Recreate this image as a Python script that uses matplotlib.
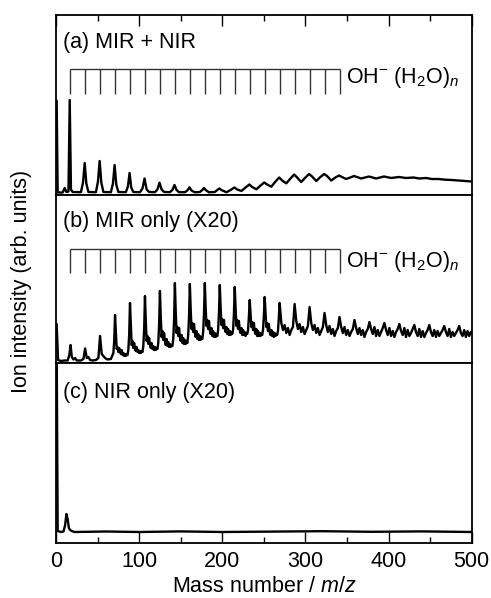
import matplotlib
matplotlib.use("Agg")
import matplotlib.pyplot as plt
import numpy as np
from matplotlib.ticker import MultipleLocator

plt.rcParams['font.family'] = 'Liberation Sans'
plt.rcParams['mathtext.fontset'] = 'custom'
plt.rcParams['mathtext.rm'] = 'Liberation Sans'
plt.rcParams['mathtext.it'] = 'Liberation Sans:italic'
plt.rcParams['font.size'] = 15.5

# OH-(H2O)n progression, n = 0..18
cluster_mz = [17, 35, 53, 71, 89, 107, 125, 143, 161, 179, 197, 215, 233,
              251, 269, 287, 305, 323, 341]

# (m/z, intensity), arb. units
trace_a = [
    (0, 94), (0.8, 94), (2, 2), (8, 2), (10.5, 6.5), (12.5, 2.5),
    (15, 3), (16.5, 94.5), (18, 5), (20, 2.5),
    (30, 2.3), (32.5, 12), (34.5, 31.5), (36.5, 11), (39, 2.5),
    (48, 2.3), (50.5, 13), (52.5, 33.5), (54.5, 12), (57, 2.5),
    (66, 2.3), (68.5, 11), (70.5, 29.5), (72.5, 10), (75, 2.5),
    (84, 2.3), (86.5, 8), (88.5, 21.5), (90.5, 7), (93, 2.5),
    (101, 2.3), (104, 6), (106.5, 16), (109, 5), (112, 2.5),
    (119, 2.3), (122, 5), (124.5, 11.8), (127, 5), (130, 2.5),
    (137, 2.3), (140, 4.5), (142.5, 9.5), (145, 4.5), (148, 2.3),
    (155, 2.3), (158, 4), (160.5, 7.2), (163, 4), (167, 2.2),
    (173, 2.5), (176, 4.5), (178, 6.5), (180, 4.5), (184, 2.2),
    (191, 2.5), (194, 4.5), (196.5, 6), (199, 4.5), (205, 2.2),
    (210, 4.5), (214.5, 7), (218, 5), (223, 3.5),
    (228, 7), (232.5, 10), (236, 7.5), (241, 5.2),
    (246, 9), (250.5, 12), (254, 10), (259, 7.8),
    (264, 13), (268.5, 17), (272, 14), (277, 11.2),
    (282, 16), (286.5, 20), (290, 17), (295, 12.5),
    (300, 17), (304.5, 20.5), (308, 18), (313, 13.5),
    (318, 17.5), (322.5, 20.5), (326, 18.5), (331, 14),
    (336, 17), (340.5, 19), (344, 17.5), (349, 15.5),
    (354, 17), (358.5, 18.5), (362, 17.5), (367, 16),
    (376.5, 18), (385, 16), (394.5, 18),
    (403, 16.5), (412.5, 17.5), (421, 16.5), (430, 17), (437, 16),
    (445, 16.5), (452, 15.5), (460, 15.5), (468, 14.8), (476, 14.5),
    (484, 14), (492, 13.5), (500, 13),
]

trace_b = [
    (0, 39), (0.8, 39), (2.5, 3), (6, 2), (10, 2.5), (14, 2.5),
    (16, 8), (17.5, 18), (19, 6), (21, 3.5), (23, 5), (25, 2.5), (30, 2.5),
    (33, 4), (35, 14.5), (37, 5), (39, 6), (41, 3), (44, 2.5), (48, 3),
    (51, 5), (53, 27), (55, 9), (57, 7), (59, 5), (62, 3.5), (66, 4),
    (69, 10), (70, 22), (71, 48), (72, 30), (73, 14), (74, 16), (75, 11), (76, 15), (77, 12),
    (78, 9), (79, 13), (80, 8), (81, 10), (82, 7), (83, 9), (84, 7), (85, 9), (86, 8),
    (87, 13), (88, 28), (89, 60), (90, 38), (91, 18), (92, 22), (93, 15), (94, 20), (95, 14),
    (96, 12), (97, 16), (98, 11), (99, 13), (100, 10), (101, 12), (102, 10), (103, 12), (104, 11),
    (105, 17), (106, 33), (107, 67), (108, 42), (109, 22), (110, 27), (111, 19), (112, 25), (113, 18),
    (114, 15), (115, 20), (116, 14), (117, 17), (118, 13), (119, 16), (120, 13), (121, 15), (122, 14),
    (123, 20), (124, 38), (125, 72), (126, 47), (127, 26), (128, 32), (129, 23), (130, 30), (131, 22),
    (132, 18), (133, 24), (134, 17), (135, 21), (136, 16), (137, 19), (138, 16), (139, 18), (140, 17),
    (141, 24), (142, 42), (143, 80), (144, 52), (145, 30), (146, 36), (147, 27), (148, 35), (149, 26),
    (150, 22), (151, 28), (152, 20), (153, 25), (154, 19), (155, 23), (156, 19), (157, 22), (158, 20),
    (159, 28), (160, 46), (161, 79), (162, 54), (163, 34), (164, 40), (165, 31), (166, 39), (167, 30),
    (168, 26), (169, 32), (170, 24), (171, 29), (172, 23), (173, 27), (174, 23), (175, 26), (176, 24),
    (177, 31), (178, 49), (179, 80), (180, 56), (181, 37), (182, 43), (183, 34), (184, 42), (185, 33),
    (186, 29), (187, 35), (188, 27), (189, 32), (190, 26), (191, 30), (192, 26), (193, 29), (194, 27),
    (195, 33), (196, 50), (197, 78), (198, 56), (199, 38), (200, 44), (201, 35), (202, 43), (203, 34),
    (204, 31), (205, 36), (206, 29), (207, 34), (208, 28), (209, 32), (210, 28), (211, 31), (212, 29),
    (213, 33), (214, 49), (215, 76), (216, 55), (217, 37), (218, 43), (219, 34), (220, 42), (221, 33),
    (222, 30), (223, 35), (224, 28), (225, 33), (226, 28), (227, 31), (228, 27), (229, 30), (230, 29),
    (231, 33), (232, 46), (233, 63), (234, 50), (235, 36), (236, 41), (237, 33), (238, 40), (239, 32),
    (240, 29), (241, 34), (242, 27), (243, 32), (244, 27), (245, 30), (246, 27), (247, 30), (248, 28),
    (249, 33), (250, 47), (251, 66), (252, 50), (253, 36), (254, 40), (255, 32), (256, 39), (257, 31),
    (258, 28), (259, 33), (260, 27), (261, 31), (262, 26), (263, 30), (264, 27), (265, 29), (266, 28),
    (267, 32), (268, 45),
    (269, 60), (271, 40), (273, 33), (275, 38), (277, 30), (279, 35), (281, 28), (283, 33), (285, 36),
    (287, 59), (289, 42), (291, 34), (293, 39), (295, 31), (297, 36), (299, 29), (301, 33), (303, 37),
    (305, 56), (307, 40), (309, 33), (311, 38), (313, 30), (315, 35), (317, 28), (319, 32), (321, 36),
    (323, 50), (325, 38), (327, 31), (329, 37), (331, 29), (333, 34), (335, 27), (337, 32), (339, 35),
    (341, 46), (343, 36), (345, 30), (347, 36), (349, 28), (351, 33), (353, 27), (355, 31), (357, 34),
    (359, 43), (361, 35), (363, 29), (365, 35), (367, 28), (369, 33), (371, 26), (373, 31), (375, 34),
    (377, 41), (379, 34), (381, 29), (383, 36), (385, 27), (387, 33), (389, 27), (391, 31), (393, 35),
    (395, 40), (397, 33), (399, 28), (401, 35), (403, 27), (405, 32), (407, 26), (409, 31), (411, 34),
    (413, 39), (415, 32), (417, 28), (419, 35), (421, 26), (423, 33), (425, 27), (427, 30), (429, 34),
    (431, 38), (433, 31), (435, 27), (437, 34), (439, 26), (441, 32), (443, 26), (445, 30), (447, 33),
    (449, 38), (451, 31), (453, 27), (455, 33), (457, 26), (459, 32), (461, 27), (463, 30), (465, 33),
    (467, 37), (469, 31), (471, 27), (473, 34), (475, 26), (477, 31), (479, 27), (481, 30), (483, 33),
    (485, 37), (487, 30), (489, 27), (491, 33), (493, 26), (495, 32), (497, 27), (499, 31), (500, 30),
]

trace_c = [
    (0, 200), (0.8, 200), (2, 12), (6, 11), (9, 11.5), (11, 18),
    (12.5, 29), (14, 24), (15.5, 15), (17, 13), (19, 12), (22, 11),
    (60, 11.5), (100, 11), (150, 11.6), (200, 11), (260, 11.4), (320, 11.8),
    (380, 11.2), (440, 11.6), (500, 11),
]

panel_labels = ['(a) MIR + NIR', '(b) MIR only (X20)', '(c) NIR only (X20)']
series_label = r'OH$^{\mathdefault{-}}$ (H$_\mathdefault{2}$O)$_{n}$'

W, H = 491, 598
fig = plt.figure(figsize=(W / 100, H / 100), dpi=100)

# panel edges in pixels (top, bottom)
edges = [(15, 194.5), (194.5, 363), (363, 543)]
axes = []
for top, bot in edges:
    ax = fig.add_axes([56 / W, 1 - bot / H, 415.7 / W, (bot - top) / H])
    ax.set_xlim(0, 500)
    ax.set_ylim(0, bot - top)
    ax.set_yticks([])
    for s in ax.spines.values():
        s.set_linewidth(1.3)
    ax.xaxis.set_major_locator(MultipleLocator(100))
    ax.xaxis.set_minor_locator(MultipleLocator(50))
    ax.tick_params(axis='x', which='both', direction='in', bottom=False,
                   top=False, labelbottom=False, width=1.0)
    ax.tick_params(axis='x', which='major', length=8)
    ax.tick_params(axis='x', which='minor', length=4)
    axes.append(ax)

ax_a, ax_b, ax_c = axes
ax_a.tick_params(axis='x', which='both', top=True)
ax_c.tick_params(axis='x', which='both', bottom=True, labelbottom=True, pad=6,
                 labelsize=15.5)
ax_c.set_xlabel('Mass number / $\\it{m/z}$', labelpad=3)

for ax, tr in zip(axes, [trace_a, trace_b, trace_c]):
    arr = np.array(tr).T
    ax.plot(arr[0], arr[1], color='k', lw=1.7, solid_joinstyle='round')

for ax, lab, ly in zip(axes, panel_labels, [146.2, 135.7, 144.7]):
    ax.text(8, ly, lab, va='baseline', ha='left')

# comb of cluster positions
for ax, ctop, cbot, ty in [(ax_a, 125.5, 100.5, 111.2), (ax_b, 114, 90, 95.7)]:
    ax.hlines(ctop, cluster_mz[0], cluster_mz[-1], color='#333333', lw=1.0)
    ax.vlines(cluster_mz, cbot, ctop, color='#333333', lw=1.0)
    ax.text(cluster_mz[-1] + 8, ty, series_label, va='baseline', ha='left')

fig.text(22 / W, 0.53, 'Ion intensity (arb. units)', rotation=90,
         ha='center', va='center')

fig.savefig('out.png', dpi=100)
